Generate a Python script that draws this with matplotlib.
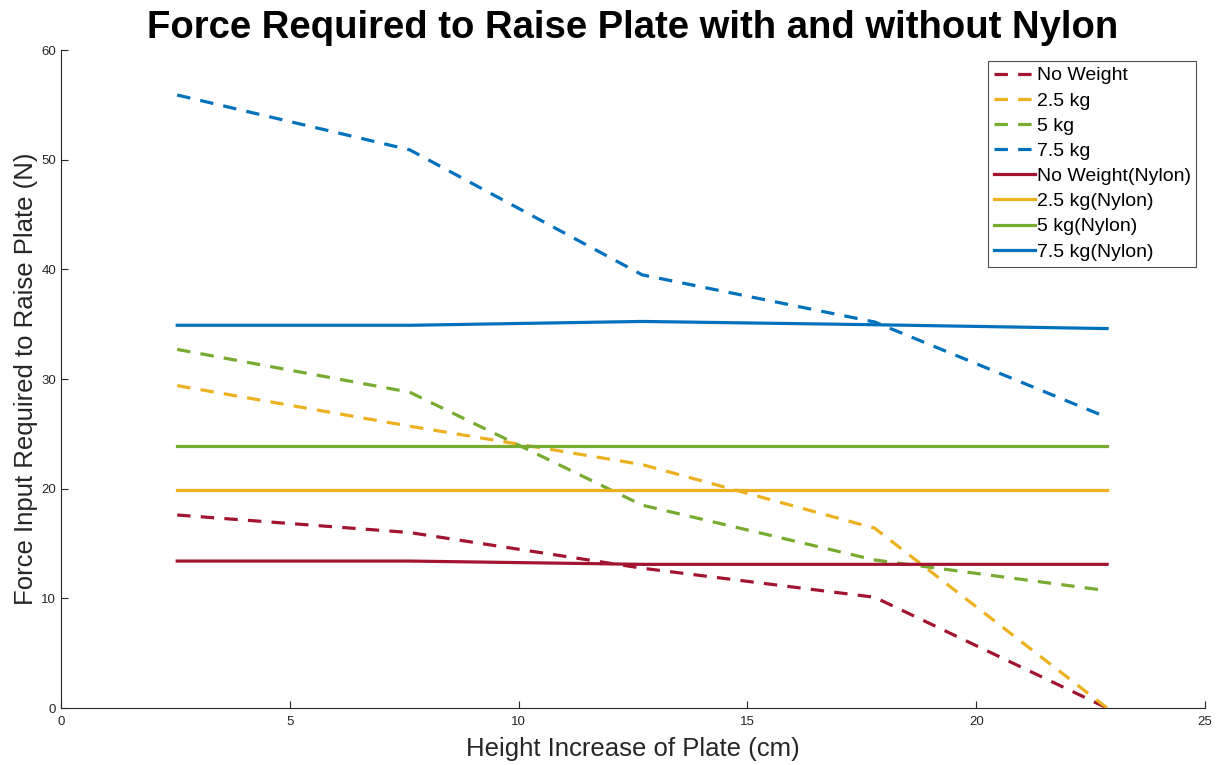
import matplotlib
matplotlib.use("Agg")
import matplotlib.pyplot as plt

plt.rcParams['font.family'] = ['Liberation Sans', 'DejaVu Sans']

heights = [2.54, 7.62, 12.7, 17.78, 22.86]

no_weight = [17.6, 16.0, 12.75, 10.1, 0.0]
kg2_5 = [29.4, 25.7, 22.2, 16.4, 0.0]
kg5 = [32.7, 28.8, 18.5, 13.5, 10.7]
kg7_5 = [55.9, 50.9, 39.5, 35.2, 26.5]

no_weight_nylon = [13.4, 13.4, 13.1, 13.1, 13.1]
kg2_5_nylon = [19.9, 19.9, 19.9, 19.9, 19.9]
kg5_nylon = [23.9, 23.9, 23.9, 23.9, 23.9]
kg7_5_nylon = [34.9, 34.9, 35.25, 34.95, 34.6]

labels = ["No Weight", "2.5 kg", "5 kg", "7.5 kg",
          "No Weight(Nylon)", "2.5 kg(Nylon)", "5 kg(Nylon)", "7.5 kg(Nylon)"]
colors = ["#A2142F", "#EDB120", "#77AC30", "#0072BD"]

fig = plt.figure(figsize=(12.22, 7.65), dpi=100)
ax = fig.add_axes([0.0499, 0.0745, 0.9362, 0.8601])

lw = 2.3
for vals, c, lab in zip([no_weight, kg2_5, kg5, kg7_5], colors, labels[:4]):
    ax.plot(heights, vals, color=c, lw=lw, linestyle=(0, (4.2, 3.2)), label=lab)
for vals, c, lab in zip([no_weight_nylon, kg2_5_nylon, kg5_nylon, kg7_5_nylon], colors, labels[4:]):
    ax.plot(heights, vals, color=c, lw=lw, linestyle='-', label=lab)

ax.set_xlim(0, 25)
ax.set_ylim(0, 60)
ax.set_xticks([0, 5, 10, 15, 20, 25])
ax.set_yticks([0, 10, 20, 30, 40, 50, 60])
for s in ['top', 'right']:
    ax.spines[s].set_visible(False)
for s in ['left', 'bottom']:
    ax.spines[s].set_color('#262626')
    ax.spines[s].set_linewidth(0.8)
ax.tick_params(direction='in', length=5, width=0.8, colors='#262626', labelsize=9.5)
ax.tick_params(axis='x', pad=6)

ax.set_xlabel("Height Increase of Plate (cm)", fontsize=18.5, color='#262626', labelpad=6)
ax.set_ylabel("Force Input Required to Raise Plate (N)", fontsize=18.5, color='#262626', labelpad=2)
ax.set_title("Force Required to Raise Plate with and without Nylon", fontsize=27.5,
             fontweight='bold', pad=9)

leg = ax.legend(loc='upper right', bbox_to_anchor=(0.9925, 0.9835), fontsize=14,
                frameon=True, fancybox=False, edgecolor='#262626',
                handlelength=2.1, handletextpad=0.1, labelspacing=0.39,
                borderpad=0.3, borderaxespad=0)
leg.get_frame().set_linewidth(0.8)

fig.savefig("out.png", dpi=100)
